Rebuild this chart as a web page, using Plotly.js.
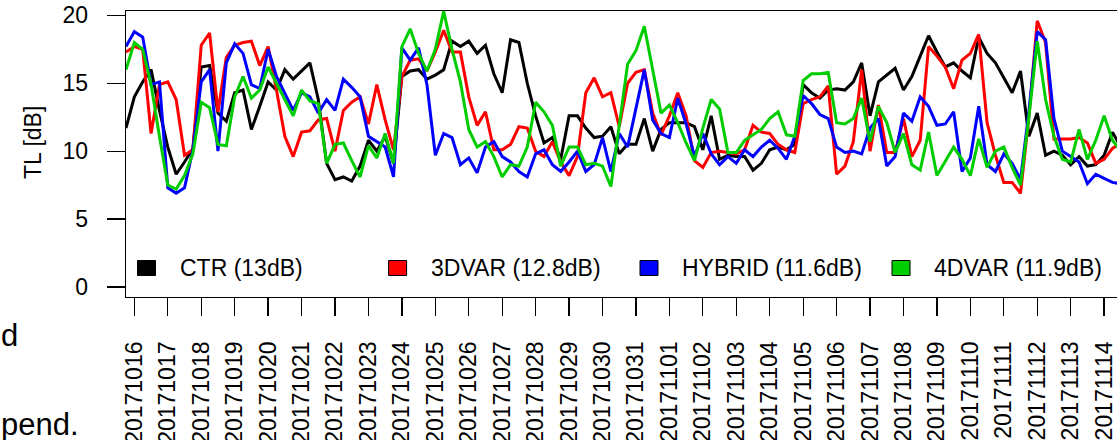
<!DOCTYPE html>
<html>
<head>
<meta charset="utf-8">
<script src="https://cdn.plot.ly/plotly-3.0.1.min.js"></script>
<style>
  html, body { margin: 0; padding: 0; overflow: hidden; background: #ffffff; }
  #chart { width: 1160px; height: 440px; }
</style>
</head>
<body>
<div id="chart"></div>
<script>
// Daily tick labels (one tick per day, 00 UTC)
const dayLabels = [
  '20171016','20171017','20171018','20171019','20171020','20171021','20171022','20171023',
  '20171024','20171025','20171026','20171027','20171028','20171029','20171030','20171031',
  '20171101','20171102','20171103','20171104','20171105','20171106','20171107','20171108',
  '20171109','20171110','20171111','20171112','20171113','20171114'
];

// 6-hourly transmission loss [dB] per experiment
const ctr = [
  11.7, 14.0, 15.1, 16.0, 13.0, 10.3, 8.3, 9.2, 10.2, 16.2,
  16.3, 12.8, 12.2, 14.3, 14.5, 11.6, 13.3, 15.1, 14.5, 16.0,
  15.3, 15.9, 16.5, 13.8, 9.1, 7.9, 8.1, 7.8, 8.9, 10.8,
  10.0, 11.1, 9.1, 15.5, 15.9, 16.0, 15.3, 15.6, 16.0, 18.1,
  17.7, 18.1, 17.2, 17.8, 15.7, 14.3, 18.2, 18.0, 15.0, 12.6,
  10.6, 11.0, 9.4, 12.6, 12.6, 11.7, 11.0, 11.1, 11.8, 9.8,
  10.5, 10.5, 12.4, 10.0, 11.6, 12.1, 12.1, 12.1, 11.8, 10.1,
  12.6, 9.4, 9.7, 9.6, 9.6, 8.6, 9.1, 10.1, 10.3, 10.1,
  10.5, 14.9, 14.3, 13.9, 14.5, 14.6, 14.5, 15.1, 16.5, 12.6,
  15.1, 15.6, 16.1, 14.5, 15.5, 17.0, 18.5, 17.3, 16.2, 16.5,
  15.9, 15.4, 18.4, 17.2, 16.5, 15.4, 14.3, 15.9, 11.1, 12.8,
  9.7, 10.0, 9.7, 9.0, 9.6, 8.9, 9.0, 9.7, 11.4, 10.3
];
const var3d = [
  17.3, 17.7, 17.5, 11.3, 14.9, 15.1, 13.8, 9.7, 10.1, 17.8,
  18.7, 12.9, 16.9, 17.8, 18.0, 18.1, 16.3, 17.7, 14.5, 11.1,
  9.6, 11.4, 11.5, 12.3, 12.4, 10.0, 13.0, 13.6, 14.0, 12.0,
  14.9, 12.3, 10.1, 15.5, 16.7, 16.8, 15.9, 17.3, 18.9, 17.3,
  17.3, 14.0, 11.9, 12.9, 10.1, 10.1, 10.5, 11.8, 11.7, 10.0,
  9.6, 10.7, 9.2, 8.2, 9.6, 14.3, 15.4, 14.0, 14.3, 11.8,
  15.0, 15.8, 16.0, 12.8, 11.2, 12.6, 14.3, 12.6, 9.3, 8.8,
  9.9, 10.0, 9.9, 9.8, 10.1, 11.9, 11.4, 11.3, 10.5, 10.1,
  9.9, 13.5, 13.8, 14.0, 14.8, 8.3, 8.9, 10.7, 16.0, 10.0,
  13.4, 9.9, 9.9, 12.4, 9.6, 10.8, 17.7, 17.0, 16.2, 14.6,
  16.7, 17.2, 18.6, 12.1, 9.7, 7.7, 7.7, 6.9, 12.5, 19.6,
  18.0, 10.9, 10.9, 10.9, 11.0, 10.6, 9.1, 9.4, 10.2, 10.6
];
const hybrid = [
  17.7, 18.8, 18.4, 14.9, 15.1, 7.3, 6.9, 7.3, 10.1, 15.1,
  16.0, 10.0, 16.5, 17.9, 17.2, 14.9, 14.6, 17.5, 15.5, 14.3,
  13.0, 14.3, 14.0, 12.8, 13.8, 13.0, 15.3, 14.7, 14.0, 11.1,
  10.7, 10.3, 8.1, 17.6, 16.7, 17.6, 14.9, 9.7, 11.3, 11.0,
  9.0, 9.5, 8.4, 10.3, 10.7, 9.6, 9.2, 8.5, 8.1, 9.8,
  10.1, 9.0, 8.5, 9.2, 10.0, 8.5, 9.0, 11.0, 8.5, 11.3,
  10.3, 13.2, 16.0, 12.3, 11.3, 11.0, 13.9, 12.0, 9.6, 11.3,
  9.8, 9.0, 9.6, 9.1, 10.1, 9.6, 10.3, 10.8, 10.2, 9.4,
  11.1, 14.1, 13.5, 12.7, 12.4, 10.3, 9.9, 10.0, 9.8, 11.7,
  12.4, 8.9, 9.6, 12.8, 12.2, 14.0, 13.3, 11.9, 12.0, 12.9,
  8.5, 9.5, 13.3, 9.0, 8.5, 9.8, 9.1, 7.9, 12.9, 18.8,
  18.2, 12.4, 10.0, 9.6, 9.2, 7.6, 8.3, 8.0, 7.7, 7.6
];
const var4d = [
  16.0, 18.0, 17.5, 14.9, 11.1, 7.5, 7.2, 8.2, 9.8, 13.6,
  13.2, 10.5, 10.4, 14.0, 15.5, 13.9, 14.5, 16.2, 15.0, 13.8,
  12.6, 14.5, 13.7, 13.5, 9.1, 10.5, 10.6, 9.3, 8.1, 10.4,
  9.5, 11.3, 9.1, 17.7, 19.0, 17.2, 15.9, 17.5, 20.3, 17.5,
  15.1, 11.6, 10.3, 10.7, 9.6, 8.1, 9.0, 8.9, 10.3, 13.6,
  12.9, 11.9, 8.9, 10.3, 10.3, 9.0, 9.1, 8.9, 7.4, 11.9,
  16.4, 17.4, 19.2, 16.0, 12.8, 13.4, 12.1, 10.6, 9.3, 11.7,
  13.8, 13.1, 9.9, 9.9, 10.8, 11.2, 11.6, 12.4, 12.9, 11.2,
  11.1, 15.2, 15.7, 15.7, 15.8, 12.1, 12.0, 12.4, 13.9, 10.7,
  13.3, 12.1, 9.9, 11.3, 9.0, 8.6, 11.4, 8.2, 9.3, 10.3,
  9.4, 8.2, 10.9, 8.8, 10.0, 10.3, 8.8, 7.5, 12.5, 18.1,
  13.8, 11.1, 9.4, 9.2, 11.6, 9.4, 10.8, 12.6, 10.8, 10.0
];

const seriesNames = ['CTR', '3DVAR', 'HYBRID', '4DVAR'];
const seriesMeans = ['13', '12.8', '11.6', '11.9'];
const seriesColors = ['#000000', '#ff0000', '#0000ff', '#00cd00'];
const seriesData = [ctr, var3d, hybrid, var4d];

// Geometry of the plotting region (pixels)
const W = 1160, H = 440;
const M = { l: 126, r: 0, t: 11, b: 143 };
const plotW = W - M.l - M.r, plotH = H - M.t - M.b;
const stepPx = 8.36;               // pixels per 6-hour step
const stepsPerDay = 4;
const firstTickStep = 1;           // first sample is 18 UTC of the previous day

const FONT = 'Liberation Sans, Arial, Helvetica, sans-serif';

const traces = seriesData.map((vals, s) => ({
  type: 'scatter',
  mode: 'lines',
  x: vals.map((_, i) => i),
  y: vals,
  name: seriesNames[s],
  line: { color: seriesColors[s], width: 3 },
  showlegend: false,
  hoverinfo: 'skip'
}));

// pixel -> paper helpers for the in-plot key
const px2x = px => (px - M.l) / plotW;
const px2y = py => (H - M.b - py) / plotH;

const shapes = [];
const annotations = [];
const keyLeft = [137.5, 388.6, 640, 892];
const keyTop = 260.5, keyBot = 275.5, keyW = 18;
seriesNames.forEach((nm, s) => {
  shapes.push({
    type: 'rect', xref: 'paper', yref: 'paper',
    x0: px2x(keyLeft[s]), x1: px2x(keyLeft[s] + keyW),
    y0: px2y(keyBot), y1: px2y(keyTop),
    fillcolor: seriesColors[s], line: { color: '#000000', width: 1 }
  });
  annotations.push({
    xref: 'paper', yref: 'paper',
    x: px2x(keyLeft[s] + 40), y: px2y((keyTop + keyBot) / 2),
    xanchor: 'left', yanchor: 'middle', showarrow: false,
    text: nm + ' (' + seriesMeans[s] + 'dB)',
    font: { family: FONT, size: 23, color: '#000000' }
  });
});

// axis title
annotations.push({
  xref: 'paper', yref: 'paper',
  x: px2x(33), y: px2y(143), xanchor: 'center', yanchor: 'middle',
  showarrow: false, textangle: -90, text: 'TL [dB]',
  font: { family: FONT, size: 23, color: '#000000' }
});

// surrounding body text
annotations.push({
  xref: 'paper', yref: 'paper', x: px2x(20), y: px2y(335),
  xanchor: 'right', yanchor: 'middle', showarrow: false, text: 'd',
  font: { family: FONT, size: 31, color: '#000000' }
});
annotations.push({
  xref: 'paper', yref: 'paper', x: px2x(81), y: px2y(424),
  xanchor: 'right', yanchor: 'middle', showarrow: false, text: 'pend.',
  font: { family: FONT, size: 31, color: '#000000' }
});

const layout = {
  width: W, height: H,
  margin: M,
  paper_bgcolor: '#ffffff', plot_bgcolor: '#ffffff',
  showlegend: false,
  xaxis: {
    range: [0, plotW / stepPx],
    tickmode: 'array',
    tickvals: dayLabels.map((_, k) => firstTickStep + stepsPerDay * k),
    ticktext: dayLabels,
    tickangle: -90,
    ticks: 'outside', ticklen: 18, tickwidth: 1.3, tickcolor: '#000000',
    ticklabelstandoff: 16,
    showline: true, linecolor: '#000000', linewidth: 1.3, mirror: true,
    showgrid: false, zeroline: false,
    tickfont: { family: FONT, size: 23, color: '#000000' }
  },
  yaxis: {
    range: [-0.74, 20.32],
    tickmode: 'array',
    tickvals: [0, 5, 10, 15, 20],
    ticks: 'outside', ticklen: 18, tickwidth: 1.3, tickcolor: '#000000',
    ticklabelstandoff: 14,
    showline: true, linecolor: '#000000', linewidth: 1.3, mirror: true,
    showgrid: false, zeroline: false,
    tickfont: { family: FONT, size: 23, color: '#000000' }
  },
  shapes: shapes,
  annotations: annotations
};

Plotly.newPlot('chart', traces, layout, { staticPlot: true, displayModeBar: false });
</script>
</body>
</html>
